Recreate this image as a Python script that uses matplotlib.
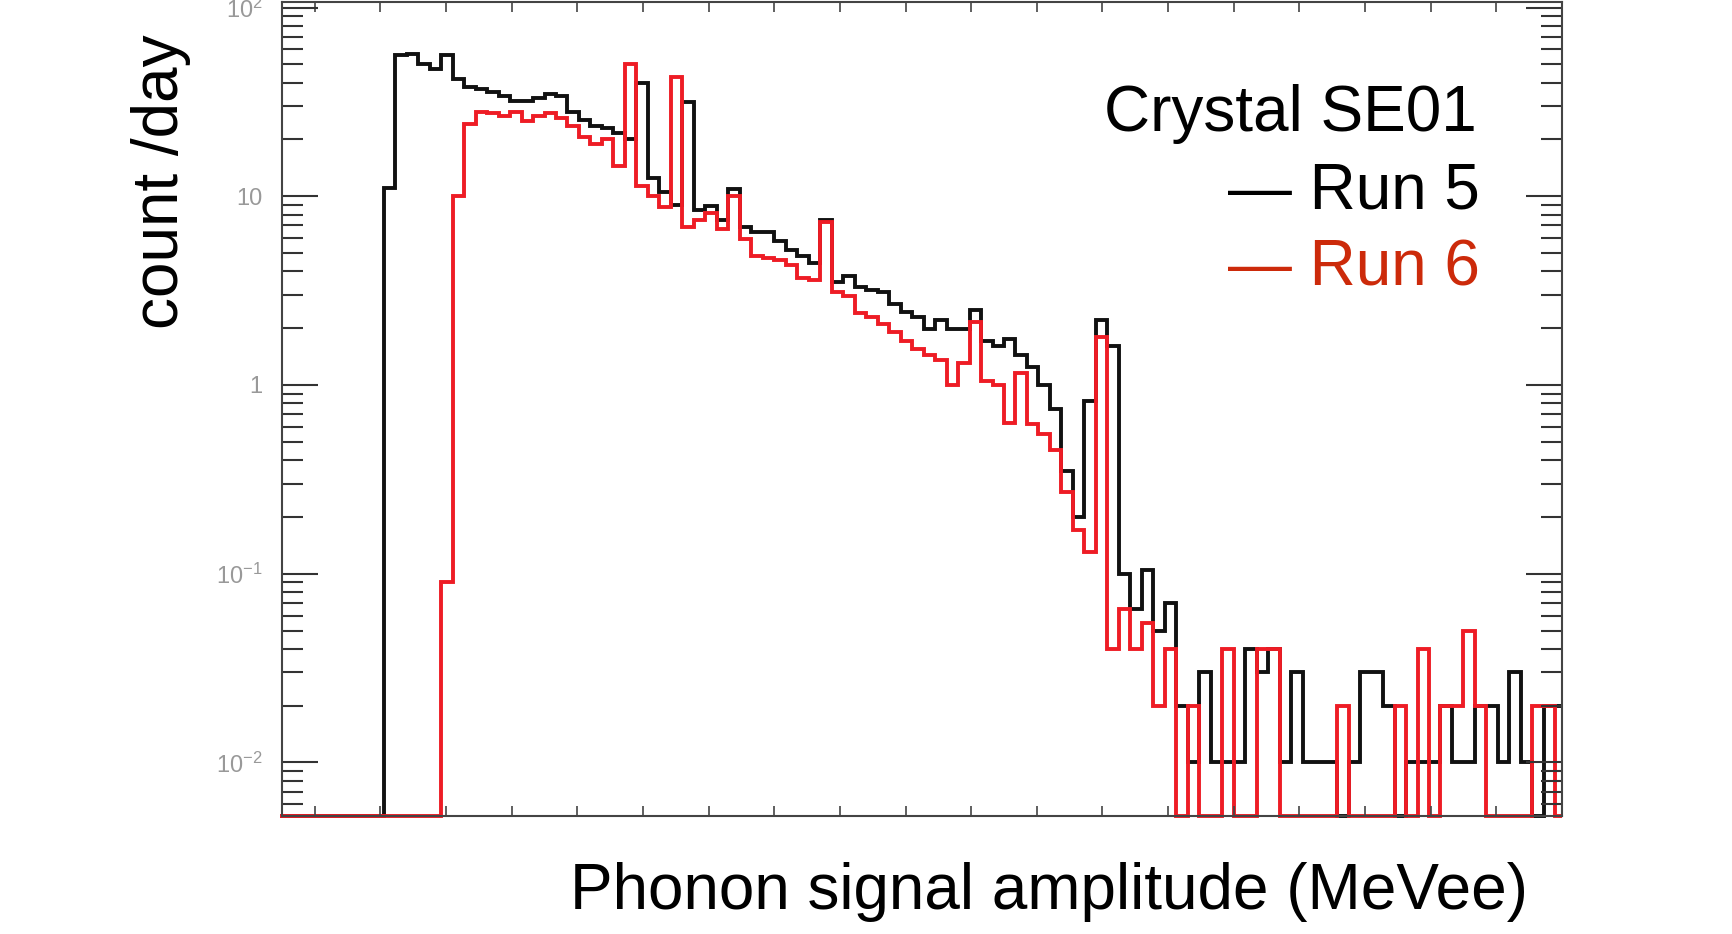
import numpy as np
import matplotlib.pyplot as plt
from matplotlib.ticker import FixedLocator, FixedFormatter, LogLocator, NullFormatter

plt.rcParams['font.family'] = ['Liberation Sans', 'DejaVu Sans']
plt.rcParams['mathtext.fontset'] = 'custom'
plt.rcParams['mathtext.rm'] = 'Liberation Sans'
plt.rcParams['mathtext.default'] = 'regular'

# histogram binning (MeVee)
bin_start = -0.105
bin_width = 0.035

# count/day per bin (0 = empty bin)
run5 = [0, 0, 0,
        0, 0, 0, 0, 0, 0, 11, 56, 57, 50,
        47, 56, 42, 38, 37, 35.5, 34, 32, 32, 33,
        35, 34, 28, 25.5, 23.5, 23, 21.5, 20, 40, 12.5,
        10.5, 9, 31.5, 8.5, 8.9, 7.5, 10.9, 6.9, 6.5, 6.5,
        5.8, 5.2, 4.8, 4.45, 7.5, 3.5, 3.8, 3.3, 3.2, 3.1,
        2.7, 2.45, 2.3, 1.97, 2.2, 1.97, 1.97, 2.5, 1.72, 1.6,
        1.75, 1.45, 1.25, 1.0, 0.75, 0.35, 0.2, 0.82, 2.2, 1.6,
        0.1, 0.065, 0.105, 0.05, 0.07, 0.02, 0.01, 0.03, 0.01, 0.01,
        0.01, 0.04, 0.03, 0.04, 0.01, 0.03, 0.01, 0.01, 0.01, 0,
        0.01, 0.03, 0.03, 0.02, 0, 0.01, 0.01, 0.01, 0.02, 0.01,
        0.01, 0.02, 0.02, 0.01, 0.03, 0.01, 0, 0.02, 0.02]

run6 = [0, 0, 0,
        0, 0, 0, 0, 0, 0, 0, 0, 0, 0,
        0, 0.09, 10, 24, 28, 27.5, 26.6, 27.8, 25, 26.5,
        27.5, 26, 23.5, 20.5, 19, 20, 14.5, 50, 11.3, 10,
        8.8, 42.8, 6.9, 7.5, 8.2, 6.7, 10, 5.9, 4.8, 4.7,
        4.6, 4.3, 3.7, 3.6, 7.3, 3.1, 2.95, 2.4, 2.3, 2.1,
        1.9, 1.7, 1.55, 1.45, 1.35, 1.0, 1.3, 2.16, 1.05, 1.0,
        0.63, 1.16, 0.62, 0.55, 0.45, 0.27, 0.17, 0.13, 1.79, 0.04,
        0.065, 0.04, 0.055, 0.02, 0.04, 0, 0.02, 0, 0, 0.04,
        0, 0, 0.04, 0.04, 0, 0, 0, 0, 0, 0.02,
        0, 0, 0, 0, 0.02, 0, 0.04, 0, 0.02, 0.02,
        0.05, 0.02, 0, 0, 0, 0, 0.02, 0.02, 0]

y_tick_vals = [0.01, 0.1, 1, 10, 100]
y_tick_labels = ['$10^{-2}$', '$10^{-1}$', '1', '10', '$10^{2}$']

xmin, xmax = -0.1, 3.8
ymin, ymax = 0.0052, 107

fig = plt.figure(figsize=(17.32, 9.34), dpi=100)
ax = fig.add_axes([0.1628, 0.1263, 0.739, 0.8716])
ax.set_yscale('log')

edges = bin_start + bin_width * np.arange(len(run5) + 1)
edges = np.minimum(edges, xmax)

for vals, col in [(run5, '#111111'), (run6, '#ee1c25')]:
    v = np.array(vals, dtype=float)
    v = np.where(v > 0, v, ymin)
    ax.stairs(v, edges, baseline=None, color=col, linewidth=2.8, clip_on=False)

ax.set_xlim(xmin, xmax)
ax.set_ylim(ymin, ymax)

ax.yaxis.set_major_locator(FixedLocator(y_tick_vals))
ax.yaxis.set_major_formatter(FixedFormatter(y_tick_labels))
ax.yaxis.set_minor_locator(LogLocator(base=10, subs=np.arange(2, 10)))
ax.yaxis.set_minor_formatter(NullFormatter())
ax.tick_params(axis='y', which='major', direction='in', length=26, width=1.5,
               left=True, right=True, labelsize=17, labelcolor='#999999',
               color='#333333', pad=14)
ax.tick_params(axis='y', which='minor', direction='in', length=15, width=1.5,
               left=True, right=True, color='#333333')

ax.xaxis.set_major_locator(FixedLocator(np.arange(0, 3.61, 0.2)))
ax.tick_params(axis='x', which='major', direction='in', length=7, width=1.2,
               top=True, bottom=True, labelbottom=False, color='#444444')

for s in ax.spines.values():
    s.set_color('#444444')
    s.set_linewidth(1.5)

fig.text(0.0931, 0.805, 'count /day', rotation=90, fontsize=46,
         ha='center', va='center')
fig.text(0.882, 0.027, 'Phonon signal amplitude (MeVee)', fontsize=46,
         ha='right', va='baseline')
fig.text(0.8528, 0.8597, 'Crystal SE01', fontsize=46, ha='right', va='baseline')
fig.text(0.8545, 0.7773, '\u2014 Run 5', fontsize=46, ha='right', va='baseline',
         color='black')
fig.text(0.8545, 0.6938, '\u2014 Run 6', fontsize=46, ha='right', va='baseline',
         color='#cc2a0a')

fig.savefig('out.png', dpi=100)
